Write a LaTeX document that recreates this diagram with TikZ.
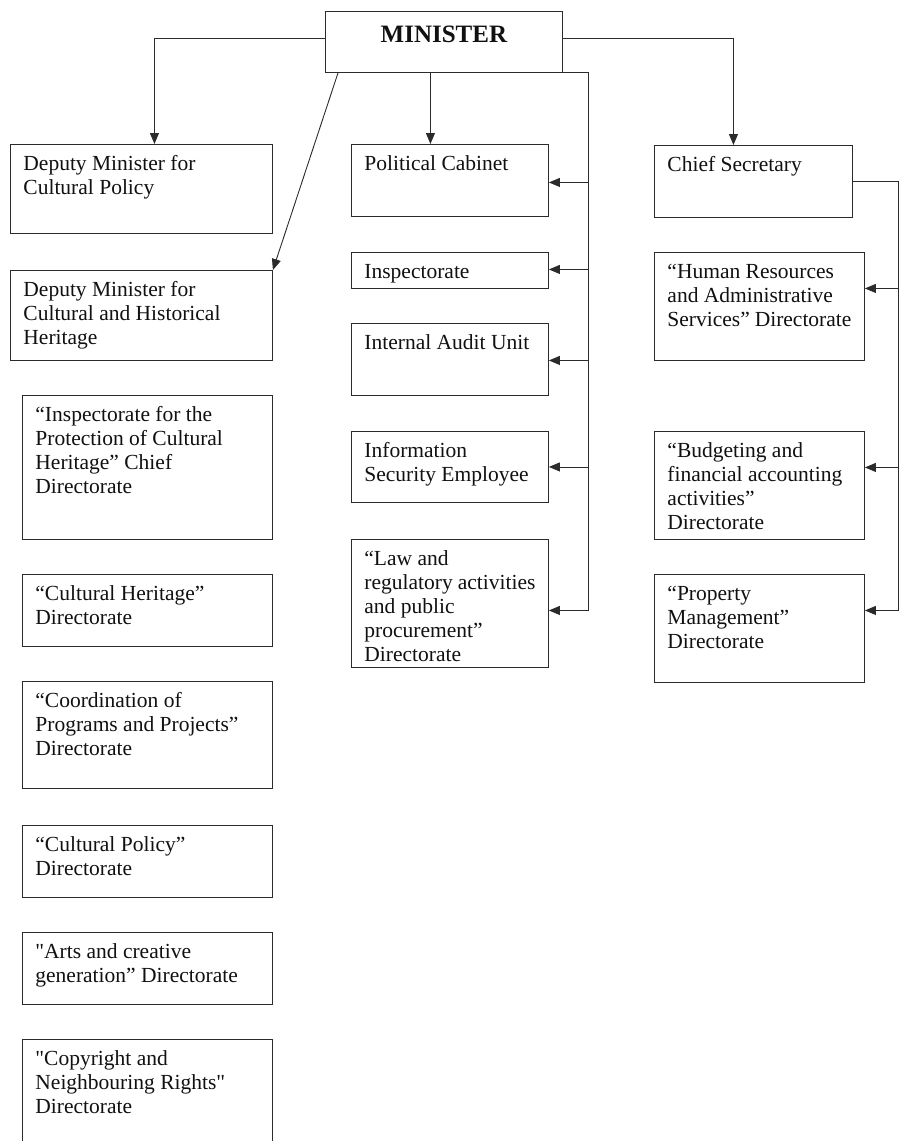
\documentclass[tikz,border=0pt]{standalone}
\usepackage{fontspec}
\setmainfont{Liberation Serif}
\usetikzlibrary{arrows.meta, calc}

\definecolor{inkline}{HTML}{2B2B2B}
\definecolor{inktext}{HTML}{111111}

\begin{document}
\begin{tikzpicture}[x=1pt, y=-1pt, >={Triangle[length=11pt, width=9pt]},
  unit/.style={draw=inkline, line width=0.9pt, anchor=north west,
    inner xsep=13pt, inner ysep=9pt, text=inktext,
    font=\fontsize{21.5pt}{24pt}\selectfont},
  link/.style={draw=inkline, line width=0.9pt}]

% Background
\useasboundingbox (0,0) rectangle (899,1141);
\clip (0,0) rectangle (899,1141);
\fill[white] (0,0) rectangle (899,1141);

% --- Minister ---
\node[unit, inner xsep=10pt, inner ysep=10pt,
  font=\fontsize{25pt}{30pt}\selectfont\bfseries] (minister) at (325,11)
  {\parbox[t][41pt][t]{217pt}{\centering\strut MINISTER}};

% --- Left column ---
\node[unit] (dpcult) at (10,144)
  {\parbox[t][71pt][t]{236pt}{\raggedright\strut Deputy Minister for\\Cultural Policy}};
\node[unit] (dpher) at (10,270)
  {\parbox[t][72pt][t]{236pt}{\raggedright\strut Deputy Minister for\\Cultural and Historical\\Heritage}};
\node[unit] (insprot) at (22,395)
  {\parbox[t][126pt][t]{224pt}{\raggedright\strut “Inspectorate for the\\Protection of Cultural\\Heritage” Chief\\Directorate}};
\node[unit] (culther) at (22,574)
  {\parbox[t][54pt][t]{224pt}{\raggedright\strut “Cultural Heritage”\\Directorate}};
\node[unit] (coord) at (22,681)
  {\parbox[t][89pt][t]{224pt}{\raggedright\strut “Coordination of\\Programs and Projects”\\Directorate}};
\node[unit] (cultpol) at (22,825)
  {\parbox[t][54pt][t]{224pt}{\raggedright\strut “Cultural Policy”\\Directorate}};
\node[unit] (arts) at (22,932)
  {\parbox[t][54pt][t]{224pt}{\raggedright\strut \textquotedbl Arts and creative\\generation” Directorate}};
\node[unit] (copyr) at (22,1039)
  {\parbox[t][92pt][t]{224pt}{\raggedright\strut \textquotedbl Copyright and\\Neighbouring Rights\textquotedbl\\Directorate}};

% --- Middle column ---
\node[unit] (polcab) at (351,144)
  {\parbox[t][54pt][t]{171pt}{\raggedright\strut Political Cabinet}};
\node[unit] (insp) at (351,252)
  {\parbox[t][18pt][t]{171pt}{\raggedright\strut Inspectorate}};
\node[unit] (audit) at (351,323)
  {\parbox[t][54pt][t]{171pt}{\raggedright\strut Internal Audit Unit}};
\node[unit] (infosec) at (351,431)
  {\parbox[t][53pt][t]{171pt}{\raggedright\strut Information\\Security Employee}};
\node[unit] (law) at (351,539)
  {\parbox[t][110pt][t]{171pt}{\raggedright\strut “Law and\\regulatory activities\\and public\\procurement”\\Directorate}};

% --- Right column ---
\node[unit] (chief) at (654,145)
  {\parbox[t][54pt][t]{172pt}{\raggedright\strut Chief Secretary}};
\node[unit] (hr) at (654,252)
  {\parbox[t][90pt][t]{184pt}{\raggedright\strut “Human Resources\\and Administrative\\Services” Directorate}};
\node[unit] (budget) at (654,431)
  {\parbox[t][90pt][t]{184pt}{\raggedright\strut “Budgeting and\\financial accounting\\activities”\\Directorate}};
\node[unit] (prop) at (654,574)
  {\parbox[t][90pt][t]{184pt}{\raggedright\strut “Property\\Management”\\Directorate}};

% --- Links from the Minister ---
\draw[link, ->] ([yshift=3.5pt]minister.west) -| ([xshift=13pt]dpcult.north);
\draw[link, ->] ([yshift=3.5pt]minister.east) -| ([xshift=-20pt]chief.north);
\draw[link, ->] ([xshift=13pt]minister.south west) -- (dpher.north east);
\coordinate (cabdrop) at ([xshift=-13.5pt]minister.south);
\draw[link, ->] (cabdrop) -- (cabdrop |- polcab.north);

% Middle bus
\coordinate (midbus) at ([xshift=26pt]minister.south east);
\foreach \u/\dy in {polcab/-2, insp/1, audit/-1, infosec/0, law/-7} {
  \coordinate (\u-in) at ([yshift=\dy pt]\u.east);
  \draw[link, ->] (midbus |- \u-in) -- (\u-in);
}
\draw[link] (minister.south east) -- (midbus) -- (midbus |- law-in);

% Right bus
\coordinate (rbus) at ([xshift=46pt]chief.east);
\foreach \u in {hr, budget, prop} {
  \coordinate (\u-in) at ([yshift=18pt]\u.east);
  \draw[link, ->] (rbus |- \u-in) -- (\u-in);
}
\draw[link] (chief.east) -- (rbus) -- (rbus |- prop-in);

\end{tikzpicture}
\end{document}
